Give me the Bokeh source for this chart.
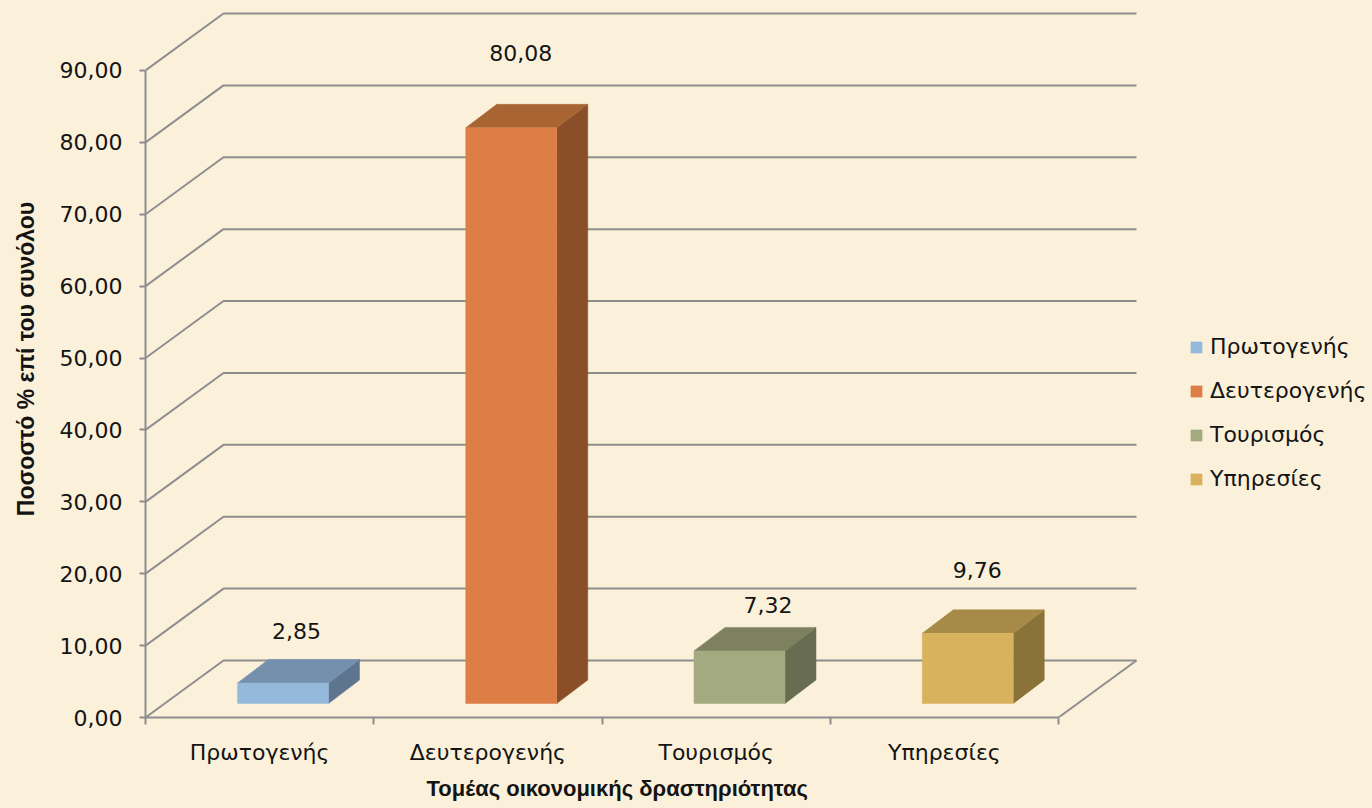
from bokeh.plotting import figure
from bokeh.models import (Range1d, FixedTicker, CustomJSTickFormatter, Title,
                          Legend, LegendItem, ColumnDataSource)
from bokeh.core.properties import value
from bokeh.embed import file_html
from bokeh.resources import INLINE

# ---------------- data ----------------
categories = ["Πρωτογενής", "Δευτερογενής", "Τουρισμός", "Υπηρεσίες"]
values = [2.85, 80.08, 7.32, 9.76]
y_ticks = [0, 10, 20, 30, 40, 50, 60, 70, 80, 90]
x_title = "Τομέας οικονομικής δραστηριότητας"
y_title = "Ποσοστό % επί του συνόλου"

# ---------------- style ----------------
BG = "#FBF1DA"
GRID = "#8E8E8E"
TXT = "#141414"
front_colors = ["#95B9DA", "#DD7E47", "#A4AA80", "#D8B25D"]
top_colors = ["#7490AC", "#A86533", "#7D8160", "#A78A47"]
side_colors = ["#5E7590", "#8A4F29", "#686D51", "#8A7339"]
TICK_FONT = "DejaVu Sans"
TICK_SIZE = "22px"
TITLE_FONT = "Liberation Sans"

W, H = 1372, 808
LEFT, BOTTOM = 145, 91
SX = 228.25          # px per category slot
SY = 7.189           # px per unit of value
DX, DY = 78 / SX, 57 / SY            # depth of the 3D box
BAR_OFF, BAR_W = 92 / SX, 91 / SX    # bar face position inside slot
BAR_BASE = 14 / SY                    # front face baseline (depth)
BDX, BDY = 31 / SX, 23.5 / SY         # bar depth
label_dx = [-2, -6, 13, -6]           # px
label_dy = [29, 51, 22, 40]           # px above the top back edge

frame_w = W - LEFT
frame_h = H - BOTTOM
p = figure(width=W, height=H, output_backend="svg", toolbar_location=None,
           x_range=Range1d(0, frame_w / SX), y_range=Range1d(0, frame_h / SY),
           min_border_left=LEFT, min_border_bottom=BOTTOM,
           min_border_top=0, min_border_right=0,
           background_fill_color=BG, border_fill_color=BG,
           outline_line_color=None)
p.xgrid.visible = False
p.ygrid.visible = False

# ---------------- 3D walls / gridlines ----------------
n = len(categories)
xend = n + DX
gx = [[0, DX, xend] for v in y_ticks]
gy = [[v, v + DY, v + DY] for v in y_ticks]
gx.append([n, n + DX])
gy.append([0, DY])
p.multi_line(gx, gy, line_color=GRID, line_width=2)

# ---------------- bars ----------------
x0 = [i + BAR_OFF for i in range(n)]
x1 = [a + BAR_W for a in x0]
btm = [BAR_BASE] * n
tops = [BAR_BASE + v for v in values]

side_xs = [[b, b + BDX, b + BDX, b] for b in x1]
side_ys = [[BAR_BASE, BAR_BASE + BDY, t + BDY, t] for t in tops]
p.patches(side_xs, side_ys, fill_color=side_colors, line_color=side_colors, line_width=0.5)

top_xs = [[a, b, b + BDX, a + BDX] for a, b in zip(x0, x1)]
top_ys = [[t, t, t + BDY, t + BDY] for t in tops]
p.patches(top_xs, top_ys, fill_color=top_colors, line_color=top_colors, line_width=0.5)

src = ColumnDataSource(dict(left=x0, right=x1, bottom=btm, top=tops,
                            color=front_colors, name=categories))
front = p.quad(left="left", right="right", bottom="bottom", top="top",
               fill_color="color", line_color="color", line_width=0.5, source=src)

# value labels
lab_src = ColumnDataSource(dict(
    x=[(a + b) / 2 + BDX / 2 for a, b in zip(x0, x1)],
    y=[t + BDY for t in tops],
    text=[f"{v:.2f}".replace(".", ",") for v in values],
    xo=label_dx, yo=[-d for d in label_dy]))
p.text(x="x", y="y", text="text", x_offset="xo", y_offset="yo", source=lab_src,
       text_align="center", text_baseline="middle", text_color=TXT,
       text_font=value(TICK_FONT), text_font_size=TICK_SIZE)

# ---------------- axes ----------------
ya = p.yaxis[0]
ya.bounds = (0, max(y_ticks))
ya.ticker = FixedTicker(ticks=y_ticks)
ya.formatter = CustomJSTickFormatter(code="return tick.toFixed(2).replace('.', ',');")
ya.axis_line_color = GRID
ya.axis_line_width = 2
ya.major_tick_line_color = GRID
ya.major_tick_line_width = 2
ya.major_tick_in = 0
ya.major_tick_out = 6
ya.minor_tick_line_color = None
ya.major_label_standoff = 17
ya.major_label_text_font = TICK_FONT
ya.major_label_text_font_size = TICK_SIZE
ya.major_label_text_color = TXT
ya.axis_label = y_title
ya.axis_label_text_font = TITLE_FONT
ya.axis_label_text_font_style = "bold"
ya.axis_label_text_font_size = "23px"
ya.axis_label_text_color = TXT
ya.axis_label_standoff = 18

xa = p.xaxis[0]
xa.bounds = (0, n)
xa.ticker = FixedTicker(ticks=[i + 0.5 for i in range(n)],
                        minor_ticks=list(range(n + 1)))
xa.major_label_overrides = {i + 0.5: c for i, c in enumerate(categories)}
xa.axis_line_color = GRID
xa.axis_line_width = 2
xa.major_tick_line_color = None
xa.major_tick_in = 0
xa.major_tick_out = 0
xa.minor_tick_line_color = GRID
xa.minor_tick_line_width = 2
xa.minor_tick_in = 0
xa.minor_tick_out = 7
xa.major_label_standoff = 15
xa.major_label_text_font = TICK_FONT
xa.major_label_text_font_size = TICK_SIZE
xa.major_label_text_color = TXT

p.add_layout(Title(text=x_title, align="left", offset=281, standoff=12,
                   text_font=TITLE_FONT, text_font_style="bold",
                   text_font_size="22px", text_color=TXT), "below")

# ---------------- legend ----------------
items = [LegendItem(label=c, renderers=[front], index=i) for i, c in enumerate(categories)]
leg = Legend(items=items, location=(1044, 226), orientation="vertical",
             glyph_width=14, glyph_height=14, label_standoff=7,
             label_height=24, spacing=19, padding=0, margin=0,
             border_line_color=None, background_fill_alpha=0,
             label_text_font=TICK_FONT, label_text_font_size=TICK_SIZE,
             label_text_color=TXT)
p.add_layout(leg)

html = file_html(p, INLINE)
html = html.replace("<head>", "<head><style>body{background:%s;}</style>" % BG, 1)
open("out.html", "w").write(html)
